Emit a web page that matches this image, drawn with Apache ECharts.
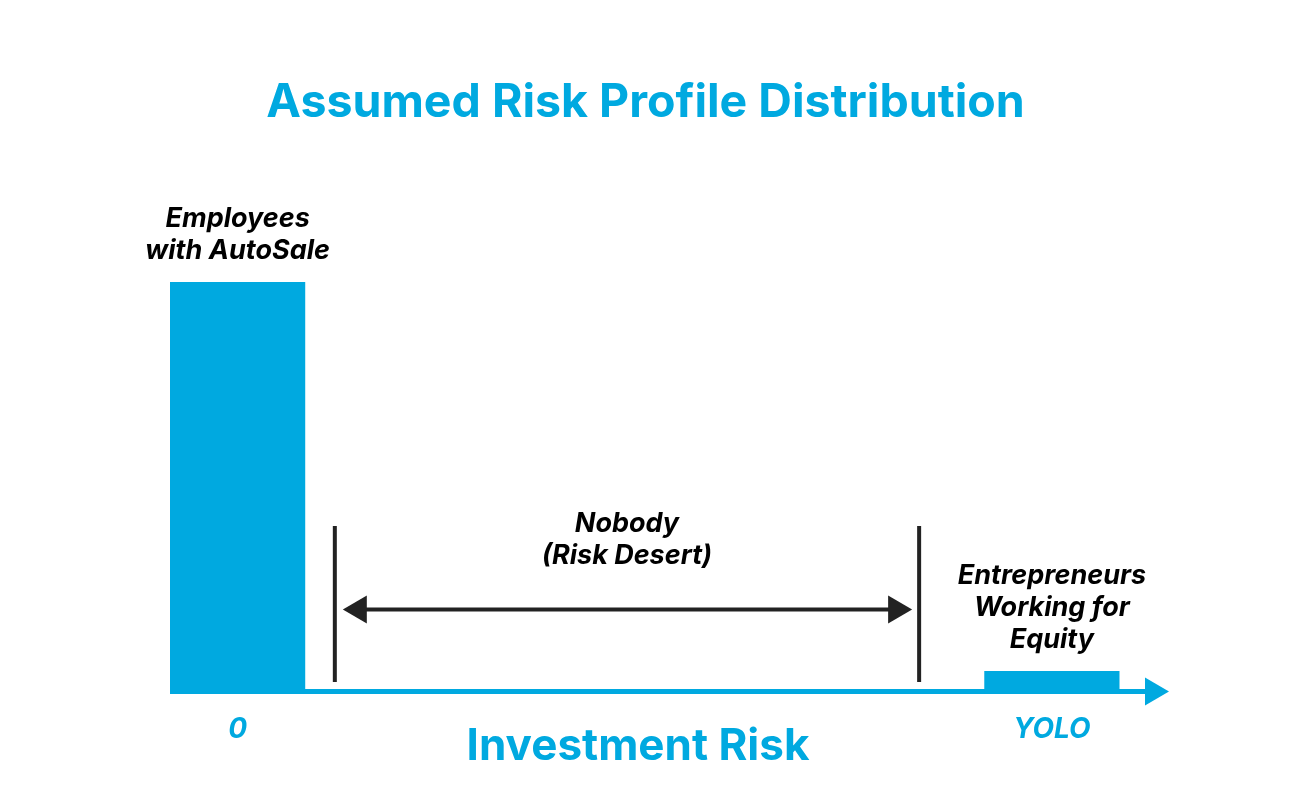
<!DOCTYPE html>
<html><head><meta charset="utf-8">
<script src="https://cdn.jsdelivr.net/npm/echarts@6/dist/echarts.min.js"></script>
<style>html,body{margin:0;padding:0;background:#fff}#c{width:1291px;height:804px}</style>
</head><body><div id="c"></div>
<script>
// ---- data ----
const groups = ['Employees\nwith AutoSale', 'Entrepreneurs\nWorking for\nEquity'];
const riskStart = [0, 82.5];
const riskEnd = [13.7, 96.2];
const share = [100, 5];
const axisTickLabels = ['0', 'YOLO'];
const axisTickValues = [6.85, 89.35];
const desertLabel = 'Nobody\n(Risk Desert)';
const desertRange = [16.7, 75.9];
const desertSpan = [2.3, 40.4];
const desertArrowLevel = 20;

// ---- styles ----
const BLUE = '#00a9e0';
const INK = '#222222';
const FONT = 'Inter';

const chart = echarts.init(document.getElementById('c'), null, { renderer: 'canvas' });

const option = {
  animation: false,
  backgroundColor: '#ffffff',
  title: [
    { text: 'Assumed Risk Profile Distribution', left: 'center', top: 75,
      textStyle: { fontFamily: FONT, fontWeight: 'bold', fontSize: 46.5, color: BLUE } },
    { text: 'Investment Risk', left: 633, textAlign: 'center', top: 720,
      textStyle: { fontFamily: FONT, fontWeight: 'bold', fontSize: 44, color: BLUE } }
  ],
  grid: { left: 170, right: 134, top: 282, bottom: 112.5 },
  xAxis: {
    type: 'value', min: 0, max: 100,
    axisLine: { show: true, lineStyle: { color: BLUE, width: 5, cap: 'butt' },
      symbol: ['none', 'triangle'], symbolSize: [28, 24] },
    axisTick: { show: false },
    splitLine: { show: false },
    axisLabel: {
      customValues: axisTickValues,
      formatter: function (v) {
        const i = axisTickValues.indexOf(v);
        return i >= 0 ? axisTickLabels[i] : '';
      },
      color: BLUE, fontFamily: FONT, fontSize: 28, fontWeight: 'bold', fontStyle: 'italic', margin: 24
    }
  },
  yAxis: { type: 'value', min: 0, max: 100, show: false },
  series: [
    {
      type: 'custom',
      clip: false,
      data: riskStart.map((s, i) => [s, riskEnd[i], share[i]]),
      encode: { x: [0, 1], y: 2 },
      renderItem: function (params, api) {
        const tl = api.coord([api.value(0), api.value(2)]);
        const br = api.coord([api.value(1), 0]);
        return {
          type: 'group',
          children: [
            { type: 'rect', shape: { x: tl[0], y: tl[1], width: br[0] - tl[0], height: br[1] - tl[1] + 2.5 },
              style: { fill: BLUE } },
            { type: 'text', style: { text: groups[params.dataIndex], x: (tl[0] + br[0]) / 2, y: tl[1] - 15,
              align: 'center', verticalAlign: 'bottom', lineHeight: 32,
              fontFamily: FONT, fontSize: 27, fontWeight: 'bold', fontStyle: 'italic', fill: '#000' } }
          ]
        };
      }
    },
    {
      type: 'custom',
      clip: false,
      data: [[desertRange[0], desertRange[1], desertSpan[0], desertSpan[1], desertArrowLevel]],
      encode: { x: [0, 1], y: [2, 3] },
      renderItem: function (params, api) {
        const lb = api.coord([api.value(0), api.value(2)]);
        const lt = api.coord([api.value(0), api.value(3)]);
        const rb = api.coord([api.value(1), api.value(2)]);
        const rt = api.coord([api.value(1), api.value(3)]);
        const ay = api.coord([api.value(0), api.value(4)])[1];
        const tipL = lb[0] + 8, tipR = rb[0] - 7;
        const head = 24, half = 14;
        return {
          type: 'group',
          children: [
            { type: 'line', shape: { x1: lb[0], y1: lb[1], x2: lt[0], y2: lt[1] }, style: { stroke: INK, lineWidth: 4 } },
            { type: 'line', shape: { x1: rb[0], y1: rb[1], x2: rt[0], y2: rt[1] }, style: { stroke: INK, lineWidth: 4 } },
            { type: 'line', shape: { x1: tipL + head - 2, y1: ay, x2: tipR - head + 2, y2: ay }, style: { stroke: INK, lineWidth: 4 } },
            { type: 'polygon', shape: { points: [[tipL, ay], [tipL + head, ay - half], [tipL + head, ay + half]] }, style: { fill: INK } },
            { type: 'polygon', shape: { points: [[tipR, ay], [tipR - head, ay - half], [tipR - head, ay + half]] }, style: { fill: INK } },
            { type: 'text', style: { text: desertLabel, x: (lb[0] + rb[0]) / 2, y: ay - 38,
              align: 'center', verticalAlign: 'bottom', lineHeight: 32,
              fontFamily: FONT, fontSize: 27, fontWeight: 'bold', fontStyle: 'italic', fill: '#000' } }
          ]
        };
      }
    }
  ]
};
chart.setOption(option);
</script>
</body></html>
